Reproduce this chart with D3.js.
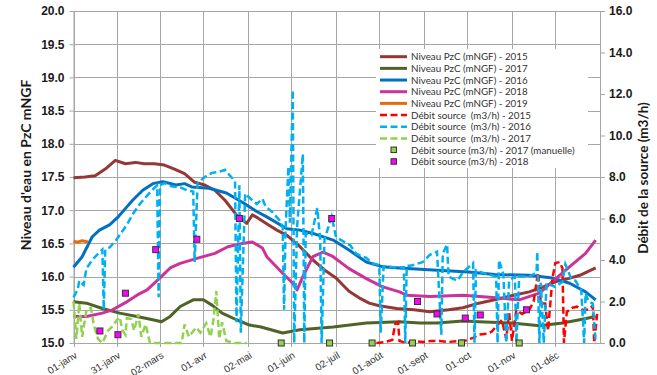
<!DOCTYPE html>
<html>
<head>
<meta charset="utf-8">
<script src="https://cdn.jsdelivr.net/npm/d3@7/dist/d3.min.js"></script>
<style>
  body { margin: 0; background: #fff; }
  svg { font-family: Lato, "Open Sans", sans-serif; }
  .leg { font-family: "Liberation Sans Narrow", "Arial Narrow", Lato, sans-serif; }
</style>
</head>
<body>
<script>
// Données : [jour depuis le 01-janv, valeur]
var tickDays = [0, 30, 60, 90, 121, 151, 182, 212, 243, 273, 304, 334];
var tickLabels = ["01-janv", "31-janv", "02-mars", "01-avr", "02-mai", "01-juin",
                  "02-juil", "01-août", "01-sept", "01-oct", "01-nov", "01-déc"];

// Niveau PzC (mNGF), axe de gauche
var niveau2015 = [[0,17.49],[8,17.5],[15,17.52],[22,17.62],[29,17.75],[36,17.7],[43,17.72],[49,17.7],
  [56,17.7],[63,17.68],[70,17.62],[77,17.55],[84,17.42],[91,17.38],[98,17.3],[105,17.15],[113,16.93],
  [120,16.8],[124,16.93],[128,16.88],[135,16.78],[141,16.7],[148,16.62],[157,16.45],[166,16.25],
  [174,16.1],[182,15.98],[191,15.78],[198,15.68],[205,15.6],[212,15.56],[224,15.52],[236,15.5],
  [247,15.47],[260,15.5],[270,15.53],[281,15.6],[292,15.65],[305,15.72],[316,15.77],[326,15.85],
  [334,15.92],[343,15.97],[351,16.02],[362,16.13]];
var niveau2017 = [[0,15.62],[9,15.6],[20,15.52],[32,15.45],[44,15.4],[55,15.35],[61,15.32],[67,15.4],
  [74,15.55],[83,15.65],[90,15.65],[96,15.57],[103,15.45],[113,15.35],[122,15.27],[130,15.24],
  [145,15.15],[157,15.2],[180,15.24],[203,15.3],[226,15.32],[240,15.3],[252,15.3],[270,15.33],
  [281,15.32],[304,15.3],[323,15.26],[339,15.3],[351,15.35],[362,15.4]];
var niveau2016 = [[0,16.14],[6,16.3],[13,16.6],[18,16.7],[25,16.78],[31,16.9],[37,17.05],[41,17.15],
  [48,17.3],[55,17.4],[62,17.43],[71,17.38],[77,17.4],[82,17.35],[94,17.33],[106,17.26],[117,17.12],
  [127,16.98],[134,16.9],[148,16.72],[157,16.7],[166,16.65],[180,16.55],[191,16.4],[203,16.22],
  [214,16.15],[226,16.13],[249,16.1],[274,16.07],[292,16.03],[316,16.02],[332,15.98],[344,15.9],
  [355,15.77],[362,15.65]];
var niveau2018 = [[0,15.4],[9,15.4],[20,15.45],[27,15.5],[37,15.62],[44,15.72],[51,15.8],[60,15.98],
  [67,16.13],[74,16.2],[85,16.27],[98,16.35],[107,16.45],[117,16.5],[124,16.52],[131,16.43],
  [134,16.3],[145,16.05],[152,15.9],[155,15.8],[159,16.0],[166,16.3],[173,16.37],[180,16.3],
  [191,16.12],[203,15.97],[214,15.85],[226,15.77],[231,15.72],[247,15.7],[270,15.72],[293,15.68],
  [309,15.65],[323,15.75],[335,15.98],[344,16.15],[355,16.35],[362,16.55]];
var niveau2019 = [[0,16.53],[3,16.52],[6,16.54],[10,16.52]];

// Débit source (m3/h), axe de droite
var debit2015 = [[210,0.0],[216,0.05],[221,0.15],[223,0.9],[225,1.0],[226,0.1],[231,0.0],[236,0.1],
  [242,0.05],[248,0.1],[254,0.1],[260,0.05],[267,0.1],[272,0.12],[277,0.25],[281,0.4],[287,0.45],
  [290,0.55],[293,0.8],[297,1.1],[300,0.2],[302,1.45],[304,0.1],[307,1.6],[311,1.4],[316,1.6],
  [319,2.0],[322,3.4],[324,1.9],[327,1.9],[329,0.6],[332,3.1],[334,3.85],[337,3.9],[339,3.6],
  [340,0.0],[342,1.5],[346,1.7],[349,1.75],[353,1.6],[357,1.6],[360,1.8],[361,0.0],[363,1.4]];
var debit2016 = [[0,2.2],[3,2.6],[4,3.0],[7,2.8],[9,3.6],[13,4.0],[17,4.3],[20,4.5],[21,1.6],[22,4.5],
  [25,4.6],[30,5.0],[34,5.4],[37,5.7],[41,6.2],[46,6.7],[51,7.1],[55,7.4],[58,7.6],[59,2.2],[60,7.6],
  [63,7.7],[68,7.55],[74,7.5],[79,7.35],[83,7.3],[84,3.9],[86,7.7],[91,8.0],[96,8.2],[101,8.25],
  [105,8.35],[108,8.1],[112,7.8],[113,1.0],[115,7.6],[116,0.5],[119,7.2],[122,7.0],[127,6.7],
  [131,6.95],[133,6.6],[138,6.3],[143,5.9],[145,5.6],[146,1.6],[147,5.5],[149,8.5],[150,5.8],
  [152,12.2],[153,0.0],[155,5.6],[159,9.1],[160,0.0],[161,5.3],[165,5.2],[169,6.5],[171,5.0],
  [172,0.0],[174,5.0],[179,6.1],[182,5.1],[187,4.9],[192,4.7],[196,4.3],[203,4.1],[207,3.85],
  [212,3.75],[213,0.5],[215,3.7],[222,3.65],[229,3.65],[230,0.0],[231,3.7],[235,3.75],[242,3.9],
  [247,4.25],[252,4.4],[255,0.4],[256,4.3],[259,4.75],[260,3.2],[266,3.0],[270,3.4],[277,3.85],
  [278,0.0],[279,3.5],[283,3.4],[288,3.3],[293,3.2],[294,0.0],[295,4.0],[298,3.3],[300,0.0],
  [302,3.0],[306,3.2],[307,0.0],[309,3.2],[316,3.2],[321,3.4],[321.5,4.4],[323,0.0],[324,2.9],
  [326,0.0],[328,2.9],[334,2.7],[339,2.95],[341,3.8],[345,3.1],[348,3.0],[352,2.55],[354,0.0],
  [355,2.4],[357,2.0],[360,1.9],[362,0.0]];
var debit2017 = [[0,2.0],[2,0.2],[4,1.9],[6,0.3],[9,1.6],[12,1.7],[14,0.9],[17,0.2],[20,0.0],[24,0.6],
  [27,0.8],[30,1.1],[32,1.25],[34,0.6],[36,0.4],[37,1.2],[40,1.15],[42,0.6],[45,1.4],[47,0.3],
  [50,0.9],[53,0.0],[60,0.0],[70,0.0],[75,0.0],[77,0.9],[80,0.3],[85,0.75],[88,0.5],[92,0.95],
  [95,0.3],[97,1.1],[99,2.5],[101,0.2],[103,1.0],[106,0.1],[112,0.0],[120,0.0]];
var debit2017Manuelle = [[144,0],[177.5,0],[207,0],[235,0],[269,0],[309,0]];
var debit2018 = [[18.3,0.58],[30.8,0.4],[36,2.4],[57,4.5],[85.5,5.0],[115,6.0],[179,6.0],
  [238.5,2.0],[252,1.4],[271.6,1.2],[282,1.35],[314,1.6]];

var W = 657, H = 375;
var plotLeft = 73.5, plotRight = 600, plotTop = 11, plotBottom = 343;
var start = new Date(2015, 0, 1);
function dayToDate(d) { return new Date(start.getTime() + d * 864e5); }

var x = d3.scaleTime().domain([start, new Date(2016, 0, 1)]).range([plotLeft, plotRight]);
var yL = d3.scaleLinear().domain([15, 20]).range([plotBottom, plotTop]);
var yR = d3.scaleLinear().domain([0, 16]).range([plotBottom, plotTop]);

var svg = d3.select("body").append("svg").attr("width", W).attr("height", H);

// Grille
var gridY = d3.range(15, 20.01, 0.5);
var tickDates = tickDays.map(dayToDate);
svg.append("g").selectAll("line").data(gridY).enter().append("line")
  .attr("x1", plotLeft).attr("x2", plotRight)
  .attr("y1", function(d) { return Math.round(yL(d)) + 0.5; })
  .attr("y2", function(d) { return Math.round(yL(d)) + 0.5; })
  .attr("stroke", "#a6a6a6").attr("stroke-width", 1);
svg.append("g").selectAll("line").data(tickDates).enter().append("line")
  .attr("x1", function(d) { return Math.round(x(d)) + 0.5; })
  .attr("x2", function(d) { return Math.round(x(d)) + 0.5; })
  .attr("y1", plotTop).attr("y2", plotBottom + 4)
  .attr("stroke", "#a6a6a6").attr("stroke-width", 1);
svg.append("line").attr("x1", plotRight + 0.5).attr("x2", plotRight + 0.5)
  .attr("y1", plotTop).attr("y2", plotBottom).attr("stroke", "#a6a6a6");

// Axes
var axL = svg.append("g").attr("transform", "translate(" + plotLeft + ",0)")
  .call(d3.axisLeft(yL).tickValues(gridY).tickFormat(d3.format(".1f")).tickSize(4).tickSizeOuter(0));
var axR = svg.append("g").attr("transform", "translate(" + plotRight + ",0)")
  .call(d3.axisRight(yR).tickValues(d3.range(0, 16.01, 2)).tickFormat(d3.format(".1f")).tickSize(5).tickSizeOuter(0));
var axB = svg.append("g").attr("transform", "translate(0," + plotBottom + ")")
  .call(d3.axisBottom(x).tickValues(tickDates).tickFormat(function(d, i) { return tickLabels[i]; }).tickSize(0));

[axL, axR].forEach(function(a) {
  a.selectAll("path.domain, line").attr("stroke", "#a6a6a6");
  a.selectAll("text").attr("font-size", 12).attr("font-weight", "bold").attr("fill", "#1a1a1a");
});
axL.selectAll("text").attr("x", -9);
axR.selectAll("text").attr("x", 9);
axB.select("path.domain").attr("stroke", "#a6a6a6");
axB.selectAll("text")
  .attr("font-size", 10).attr("fill", "#333")
  .attr("text-anchor", "end").attr("dy", 0).attr("y", 0)
  .attr("transform", "translate(4,14) rotate(-32)");

// Titres
svg.append("text").attr("transform", "translate(31,165) rotate(-90)")
  .attr("text-anchor", "middle").attr("font-size", 14).attr("font-weight", "bold").attr("fill", "#1a1a1a")
  .text("Niveau d'eau en PzC mNGF");
svg.append("text").attr("transform", "translate(648,178) rotate(-90)")
  .attr("text-anchor", "middle").attr("font-size", 13.5).attr("font-weight", "bold").attr("fill", "#1a1a1a")
  .text("Débit de la source (m3/h)");

// Courbes
var lineL = d3.line().x(function(d) { return x(dayToDate(d[0])); }).y(function(d) { return yL(d[1]); });
var lineR = d3.line().x(function(d) { return x(dayToDate(d[0])); }).y(function(d) { return yR(d[1]); });

var plot = svg.append("g");
var niveaux = [
  {data: niveau2015, color: "#953735"},
  {data: niveau2017, color: "#4f6228"},
  {data: niveau2016, color: "#0070c0"},
  {data: niveau2018, color: "#cc3399"},
  {data: niveau2019, color: "#e46c0a"}
];
niveaux.forEach(function(s) {
  plot.append("path").datum(s.data).attr("fill", "none").attr("stroke", s.color)
    .attr("stroke-width", 3).attr("stroke-linejoin", "round").attr("d", lineL);
});
var debits = [
  {data: debit2015, color: "#ff0000"},
  {data: debit2016, color: "#00b0f0"},
  {data: debit2017, color: "#92d050"}
];
debits.forEach(function(s) {
  plot.append("path").datum(s.data).attr("fill", "none").attr("stroke", s.color)
    .attr("stroke-width", 2.5).attr("stroke-dasharray", "7,3.5").attr("d", lineR);
});
plot.selectAll(".man").data(debit2017Manuelle).enter().append("rect")
  .attr("x", function(d) { return x(dayToDate(d[0])) - 3; })
  .attr("y", function(d) { return yR(d[1]) - 3; })
  .attr("width", 6).attr("height", 6)
  .attr("fill", "#92d050").attr("stroke", "#333").attr("stroke-width", 1);
plot.selectAll(".d18").data(debit2018).enter().append("rect")
  .attr("x", function(d) { return x(dayToDate(d[0])) - 3; })
  .attr("y", function(d) { return yR(d[1]) - 3; })
  .attr("width", 6).attr("height", 6)
  .attr("fill", "#ff00ff").attr("stroke", "#333").attr("stroke-width", 1);

// Légende
var legendItems = [
  {label: "Niveau PzC (mNGF) - 2015", color: "#953735", type: "line"},
  {label: "Niveau PzC (mNGF) - 2017", color: "#4f6228", type: "line"},
  {label: "Niveau PzC (mNGF) - 2016", color: "#0070c0", type: "line"},
  {label: "Niveau PzC (mNGF) - 2018", color: "#cc3399", type: "line"},
  {label: "Niveau PzC (mNGF) - 2019", color: "#e46c0a", type: "line"},
  {label: "Débit source  (m3/h) - 2015", color: "#ff0000", type: "dash"},
  {label: "Débit source  (m3/h) - 2016", color: "#00b0f0", type: "dash"},
  {label: "Débit source  (m3/h) - 2017", color: "#92d050", type: "dash"},
  {label: "Débit source (m3/h) - 2017 (manuelle)", color: "#92d050", type: "square"},
  {label: "Débit source (m3/h) - 2018", color: "#ff00ff", type: "square"}
];
var lg = svg.append("g");
lg.append("rect").attr("x", 376).attr("y", 49).attr("width", 212).attr("height", 119).attr("fill", "#fff");
var rows = lg.selectAll("g").data(legendItems).enter().append("g")
  .attr("transform", function(d, i) { return "translate(0," + (56.7 + i * 11.67) + ")"; });
rows.filter(function(d) { return d.type != "square"; }).append("line")
  .attr("x1", 380).attr("x2", 407).attr("y1", 0).attr("y2", 0)
  .attr("stroke", function(d) { return d.color; })
  .attr("stroke-width", function(d) { return d.type == "line" ? 3 : 2.5; })
  .attr("stroke-dasharray", function(d) { return d.type == "dash" ? "7,3.5" : null; });
rows.filter(function(d) { return d.type == "square"; }).append("rect")
  .attr("x", 391).attr("y", -3).attr("width", 5.5).attr("height", 5.5)
  .attr("fill", function(d) { return d.color; }).attr("stroke", "#333").attr("stroke-width", 1);
rows.append("text").attr("class", "leg").attr("x", 411).attr("y", 3.6).attr("font-size", 9.8).attr("fill", "#333")
  .style("white-space", "pre")
  .text(function(d) { return d.label; });
</script>
</body>
</html>
